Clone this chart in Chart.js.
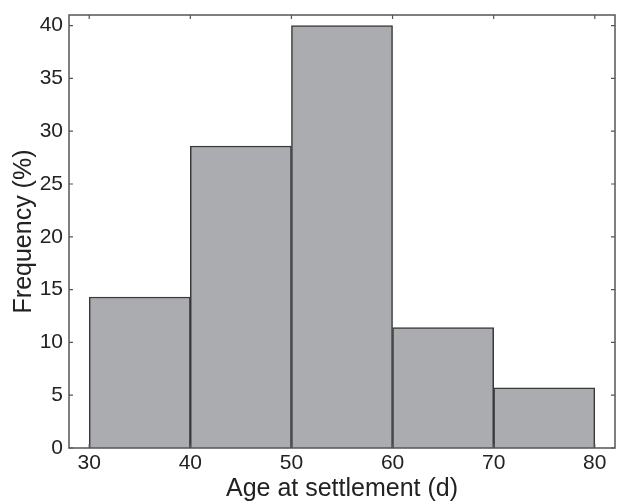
<!DOCTYPE html>
<html>
<head>
<meta charset="utf-8">
<script src="https://cdn.jsdelivr.net/npm/chart.js@4/dist/chart.umd.min.js"></script>
<style>
  body { margin: 0; background: #fff; }
  canvas { display: block; }
</style>
</head>
<body>
<canvas id="hist" width="617" height="504"></canvas>
<script>
// histogram bins (days) and percent frequency
var binCenters = [35, 45, 55, 65, 75];
var frequency = [14.3, 28.6, 40.0, 11.4, 5.7];
var xRange = [28, 82];
var yRange = [0, 41];

// box around plot + inward ticks on all four sides
var boxTicks = {
    id: 'boxTicks',
    afterDraw: function (chart) {
        var ctx = chart.ctx, a = chart.chartArea;
        var xs = chart.scales.x, ys = chart.scales.y;
        var len = 4;
        ctx.save();
        ctx.strokeStyle = '#555';
        ctx.lineWidth = 1.5;
        ctx.strokeRect(a.left, a.top, a.right - a.left, a.bottom - a.top);
        ctx.lineWidth = 1.2;
        ctx.beginPath();
        xs.ticks.forEach(function (t) {
            var px = xs.getPixelForValue(t.value);
            ctx.moveTo(px, a.bottom); ctx.lineTo(px, a.bottom - len);
            ctx.moveTo(px, a.top); ctx.lineTo(px, a.top + len);
        });
        ys.ticks.forEach(function (t) {
            var py = ys.getPixelForValue(t.value);
            ctx.moveTo(a.left, py); ctx.lineTo(a.left + len, py);
            ctx.moveTo(a.right, py); ctx.lineTo(a.right - len, py);
        });
        ctx.stroke();
        ctx.restore();
    }
};

var font = 'Liberation Sans, Arial, sans-serif';

new Chart(document.getElementById('hist').getContext('2d'), {
    type: 'bar',
    data: {
        datasets: [{
            data: binCenters.map(function (c, i) { return { x: c, y: frequency[i] }; }),
            backgroundColor: '#abacb0',
            borderColor: '#3a3a3a',
            borderWidth: 1.5,
            barPercentage: 1,
            categoryPercentage: 1
        }]
    },
    options: {
        responsive: false,
        animation: false,
        layout: { padding: { top: 15, right: 2, left: 0, bottom: 0 } },
        plugins: { legend: { display: false }, tooltip: { enabled: false } },
        scales: {
            x: {
                type: 'linear',
                offset: false,
                min: xRange[0], max: xRange[1],
                grid: { display: false, drawTicks: false, offset: false },
                border: { display: false },
                ticks: { stepSize: 10, includeBounds: false, padding: 3, color: '#222', font: { family: font, size: 21 } },
                title: { display: true, text: 'Age at settlement (d)', color: '#222', padding: { top: 0, bottom: 0 }, font: { family: font, size: 25 } },
                afterFit: function (s) { s.height = 56; s.paddingLeft = 0; s.paddingRight = 0; }
            },
            y: {
                min: yRange[0], max: yRange[1],
                grid: { display: false, drawTicks: false },
                border: { display: false },
                ticks: { stepSize: 5, includeBounds: false, padding: 6, color: '#222', font: { family: font, size: 21 } },
                title: { display: true, text: 'Frequency (%)', color: '#222', padding: { top: 9, bottom: 0 }, font: { family: font, size: 25 } },
                afterFit: function (s) { s.width = 69; s.paddingTop = 0; s.paddingBottom = 0; }
            }
        }
    },
    plugins: [boxTicks]
});
</script>
</body>
</html>
